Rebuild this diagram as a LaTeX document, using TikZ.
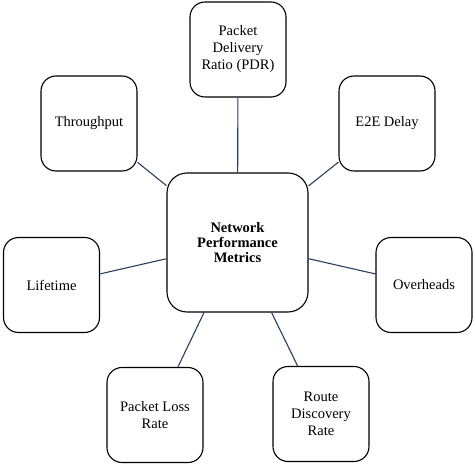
\documentclass[tikz,border=0pt]{standalone}
\usepackage{fontspec}
\setmainfont{Liberation Serif}
\definecolor{linkblue}{HTML}{27405E}

\begin{document}
\begin{tikzpicture}[x=1pt,y=-1pt,
  metric/.style={draw, rounded corners=15pt, line width=1.1pt, minimum width=96pt,
    minimum height=95pt, inner sep=2pt, align=center, font=\fontsize{14.5}{17}\selectfont},
  hub/.style={metric, rounded corners=20pt, minimum width=141pt, minimum height=139pt,
    font=\fontsize{14.5}{15}\selectfont\bfseries},
  link/.style={draw=linkblue, line width=1.1pt}]
  \useasboundingbox (0,0) rectangle (474,468);
  \node[hub] (npm) at (237.5,242.5) {Network\\Performance\\Metrics};
  \node[metric] (pdr) at (238,49.5) {Packet\\Delivery\\Ratio (PDR)};
  \node[metric] (thru) at (89,123.5) {Throughput};
  \node[metric] (e2e) at (387,123.5) {E2E Delay};
  \node[metric] (life) at (51.5,285) {Lifetime};
  \node[metric] (ovh) at (424,285) {Overheads};
  \node[metric] (plr) at (155,415) {Packet Loss\\Rate};
  \node[metric] (rdr) at (321,414) {Route\\Discovery\\Rate};
  \foreach \m in {pdr,thru,e2e,life,ovh,plr,rdr}
    \draw[link] (npm) -- (\m);
\end{tikzpicture}
\end{document}
